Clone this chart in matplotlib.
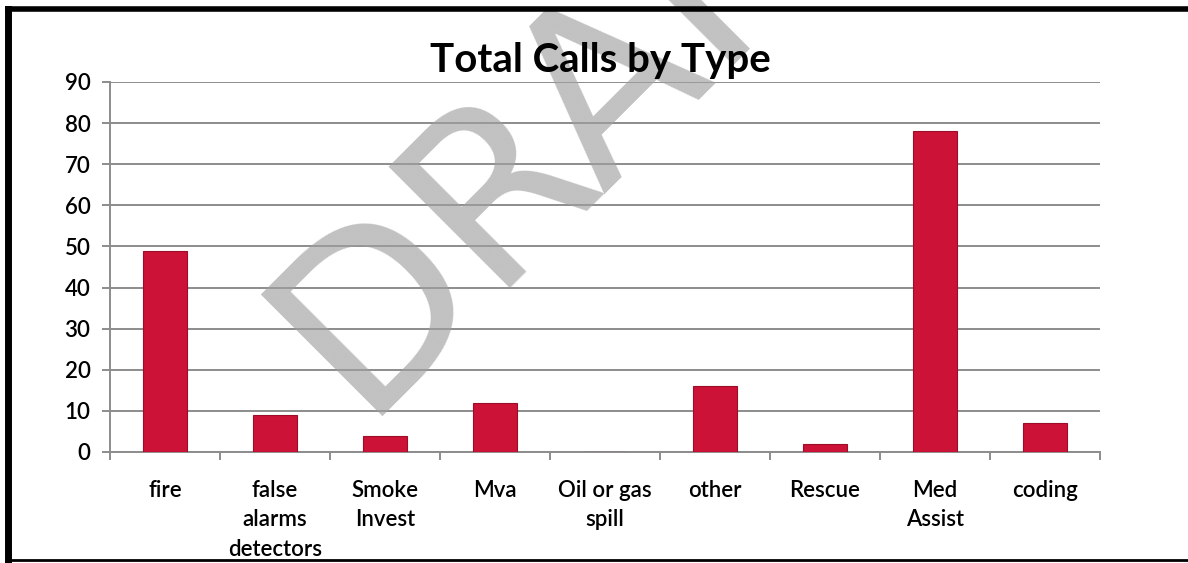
import matplotlib.pyplot as plt
import numpy as np
from matplotlib.lines import Line2D

# Data for plotting
labels = ["fire", "false\nalarms\ndetectors", "Smoke\nInvest", "Mva", "Oil or gas\nspill",
          "other", "Rescue", "Med\nAssist", "coding"]
calls = [49, 9, 4, 12, 0, 16, 2, 78, 7]

plt.rcParams['font.family'] = ['Lato', 'DejaVu Sans']

W, H = 1188, 563
fig = plt.figure(figsize=(W / 100, H / 100), dpi=100)
ax = fig.add_axes([110 / W, 1 - 452 / H, 990 / W, 370 / H])

x = np.arange(len(labels))
ax.grid(axis='y', color='#8c8c8c', linewidth=1.4, zorder=0)
ax.bar(x, calls, width=0.4, color='#cc1236', edgecolor='#9c0e28', linewidth=0.8, zorder=3)

ax.set_xlim(-0.5, len(labels) - 0.5)
ax.set_ylim(0, 90)
ax.set_yticks(np.arange(0, 91, 10))
ax.set_xticks(x)
ax.set_xticklabels(labels, fontsize=16, linespacing=1.5, va='top', fontweight='semibold')
ax.set_xticks(np.arange(-0.5, len(labels)), minor=True)
ax.tick_params(axis='x', which='major', length=0, pad=20)
ax.tick_params(axis='x', which='minor', length=6, width=1.4, color='#8c8c8c')
ax.tick_params(axis='y', length=6, width=1.4, color='#8c8c8c', labelsize=16, pad=8)
for t in ax.get_yticklabels():
    t.set_fontweight('semibold')
for s in ['top', 'right']:
    ax.spines[s].set_visible(False)
for s in ['left', 'bottom']:
    ax.spines[s].set_color('#8c8c8c')
    ax.spines[s].set_linewidth(1.4)

# watermark, under the title
fig.text(360 / W, 1 - 416 / H, 'DRAFT', ha='left', va='baseline', rotation=45,
         rotation_mode='anchor', fontsize=170, color='#a0a0a0', alpha=0.65, zorder=5,
         family=['DejaVu Sans'])

fig.text(600 / W, 1 - 72 / H, 'Total Calls by Type', ha='center', va='baseline',
         fontsize=29, fontweight='bold', zorder=20)

# scanned page frame
fig.add_artist(Line2D([8 / W, 1], [1 - 9 / H, 1 - 9 / H], color='black', lw=4, zorder=30))
fig.add_artist(Line2D([8 / W, 8 / W], [1 - 9 / H, 1 - 560 / H], color='black', lw=5, zorder=30))
fig.add_artist(Line2D([8 / W, 1], [1 - 560 / H, 1 - 560 / H], color='black', lw=2, zorder=30))

fig.savefig('out.png', dpi=100)
